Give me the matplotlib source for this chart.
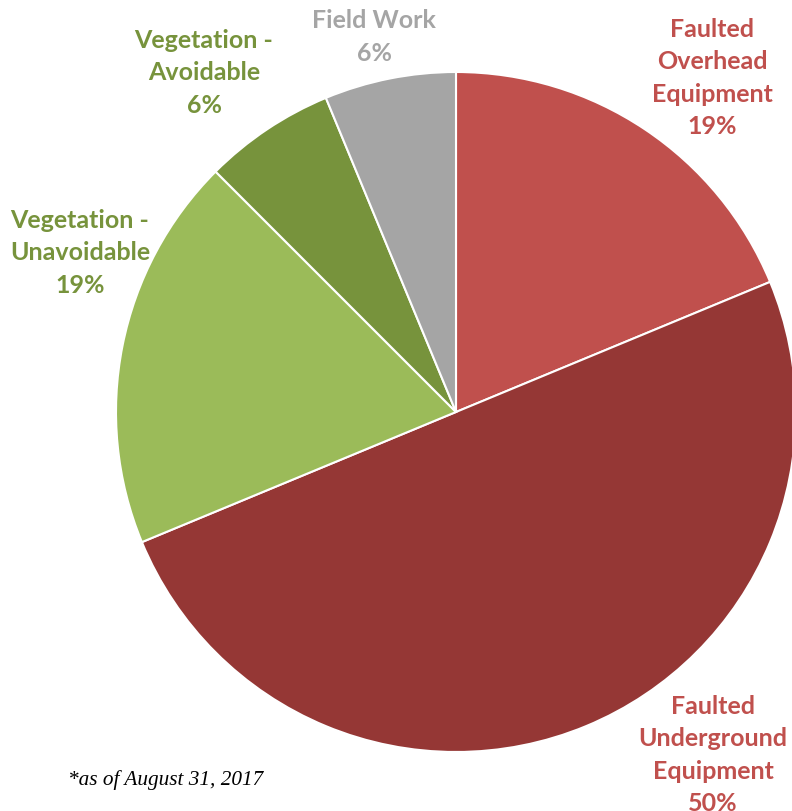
import matplotlib
matplotlib.use("Agg")
import matplotlib.pyplot as plt

categories = ["Faulted Overhead Equipment", "Faulted Underground Equipment",
              "Vegetation - Unavoidable", "Vegetation - Avoidable", "Field Work"]
counts = [3, 8, 3, 1, 1]
pct_labels = ["19%", "50%", "19%", "6%", "6%"]
label_text = ["Faulted\nOverhead\nEquipment", "Faulted\nUnderground\nEquipment",
              "Vegetation -\nUnavoidable", "Vegetation -\nAvoidable", "Field Work"]
slice_colors = ["#C0504D", "#953735", "#9BBB59", "#77933C", "#A5A5A5"]
label_colors = ["#C0504D", "#C0504D", "#77933C", "#77933C", "#A5A5A5"]
label_pos = [(712, 78), (713, 755), (80, 253), (204, 73), (374, 37)]

W, H = 792, 812
fig = plt.figure(figsize=(W / 100, H / 100), dpi=100)
ax = fig.add_axes([0, 0, 1, 1])
ax.axis("off")

ax.pie(counts, colors=slice_colors, startangle=90, counterclock=False,
       center=(456, H - 413), radius=340,
       wedgeprops=dict(edgecolor="white", linewidth=1.5))
ax.set_xlim(0, W)
ax.set_ylim(0, H)
ax.set_aspect("equal")

for txt, pct, col, (x, y) in zip(label_text, pct_labels, label_colors, label_pos):
    ax.text(x, H - y, f"{txt}\n{pct}", ha="center", va="center", color=col,
            fontsize=18, fontweight="bold", family="Lato", linespacing=1.5)

ax.text(68, H - 780, "*as of August 31, 2017", ha="left", va="center",
        fontsize=15.3, style="italic", family="Liberation Serif", color="black")

fig.savefig("out.png", dpi=100)
